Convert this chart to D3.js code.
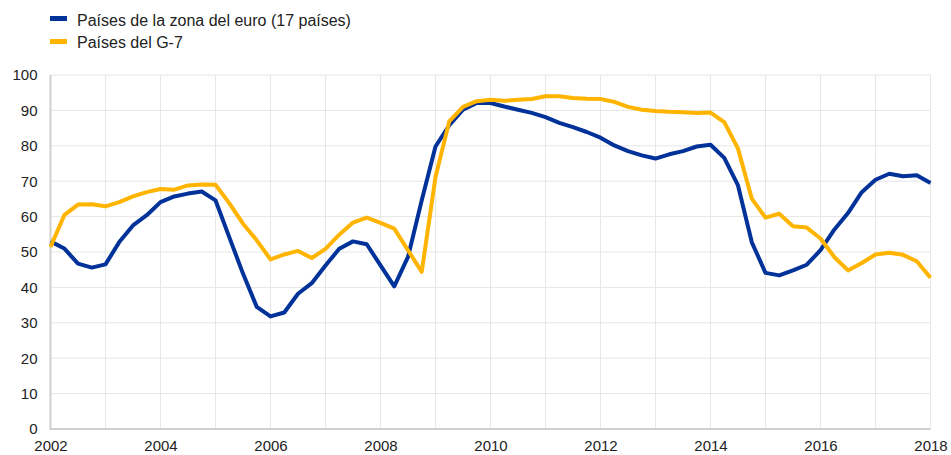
<!DOCTYPE html>
<html>
<head>
<meta charset="utf-8">
<script src="https://cdn.jsdelivr.net/npm/d3@7"></script>
<style>
  body { margin: 0; background: #fff; }
  svg { font-family: "Liberation Sans", Arial, sans-serif; }
</style>
</head>
<body>
<div id="vis-container"></div>
<script>
// size of the page and plot box
const width = 951;
const height = 455;
const margin = {left: 50.5, right: 20.5, top: 75, bottom: 26};

// series names
const seriesNames = ["Países de la zona del euro (17 países)", "Países del G-7"];
const colors = ["#003299", "#ffb400"];

// quarterly observations, 2002 Q1 .. 2018 Q1
const quarters = d3.range(65).map(i => 2002 + i / 4);

const euroArea = [53.0, 51.0, 46.7, 45.6, 46.5, 52.8, 57.5, 60.4, 64.1, 65.7, 66.5, 67.1,
  64.6, 54.2, 43.9, 34.5, 31.8, 32.9, 38.2, 41.2, 46.2, 50.9, 53.0, 52.2,
  46.2, 40.3, 48.6, 64.6, 79.8, 85.8, 90.2, 92.1, 92.1, 91.1, 90.2, 89.3,
  88.1, 86.5, 85.3, 83.9, 82.3, 80.1, 78.5, 77.3, 76.4, 77.6, 78.5, 79.8,
  80.3, 76.6, 68.8, 52.8, 44.1, 43.4, 44.8, 46.4, 50.5, 56.3, 61.0, 66.9,
  70.4, 72.1, 71.4, 71.7, 69.5];

const g7 = [51.4, 60.4, 63.4, 63.5, 62.9, 64.1, 65.7, 66.9, 67.8, 67.6, 68.8, 69.1,
  69.0, 63.8, 58.0, 53.3, 47.9, 49.3, 50.3, 48.3, 50.9, 54.9, 58.3, 59.7,
  58.2, 56.6, 50.5, 44.4, 71.2, 86.9, 91.0, 92.6, 93.0, 92.7, 93.0, 93.2,
  94.0, 94.0, 93.5, 93.3, 93.2, 92.4, 91.0, 90.2, 89.8, 89.6, 89.5, 89.3,
  89.4, 86.7, 79.2, 65.1, 59.7, 60.8, 57.3, 56.9, 53.8, 48.6, 44.8, 46.9,
  49.3, 49.8, 49.2, 47.4, 42.7];

const yTicks = [0, 10, 20, 30, 40, 50, 60, 70, 80, 90, 100];
const gridYears = d3.range(2003, 2019);
const labelYears = [2002, 2004, 2006, 2008, 2010, 2012, 2014, 2016, 2018];

const svg = d3.select("#vis-container")
  .append("svg")
  .attr("width", width)
  .attr("height", height);

// x runs a little past 2018, so the plot box ends after the last grid line
const xScale = d3.scaleLinear()
  .domain([2002, 2018])
  .range([margin.left, 930.5]);
const plotRight = width - margin.right;

const yScale = d3.scaleLinear()
  .domain([0, 100])
  .range([height - margin.bottom, margin.top]);

// horizontal grid
svg.append("g")
  .selectAll("line")
  .data(yTicks.filter(d => d > 0))
  .join("line")
  .attr("x1", margin.left)
  .attr("x2", plotRight)
  .attr("y1", d => yScale(d))
  .attr("y2", d => yScale(d))
  .attr("stroke", "#e6e6e6")
  .attr("stroke-width", 1);

// vertical grid
svg.append("g")
  .selectAll("line")
  .data(gridYears)
  .join("line")
  .attr("x1", d => xScale(d))
  .attr("x2", d => xScale(d))
  .attr("y1", yScale(100))
  .attr("y2", yScale(0))
  .attr("stroke", "#e6e6e6")
  .attr("stroke-width", 1);

// y-axis labels
svg.append("g")
  .attr("transform", `translate(${margin.left}, 0)`)
  .call(d3.axisLeft(yScale).tickValues(yTicks).tickSize(0).tickPadding(13))
  .call(g => g.select(".domain").remove())
  .selectAll("text")
  .attr("font-size", "15px")
  .attr("fill", "#222")
  .attr("font-family", "Liberation Sans, Arial, sans-serif");

// x-axis labels
svg.append("g")
  .attr("transform", `translate(0, ${yScale(0)})`)
  .call(d3.axisBottom(xScale).tickValues(labelYears).tickFormat(d3.format("d")).tickSize(0).tickPadding(11))
  .call(g => g.select(".domain").remove())
  .selectAll("text")
  .attr("font-size", "15px")
  .attr("fill", "#222")
  .attr("font-family", "Liberation Sans, Arial, sans-serif");

// axis lines
svg.append("line")
  .attr("x1", margin.left).attr("x2", margin.left)
  .attr("y1", yScale(100)).attr("y2", yScale(0))
  .attr("stroke", "#d0d0d0").attr("stroke-width", 2);
svg.append("line")
  .attr("x1", margin.left - 1).attr("x2", plotRight)
  .attr("y1", yScale(0)).attr("y2", yScale(0))
  .attr("stroke", "#d0d0d0").attr("stroke-width", 2);

// lines
const line = d3.line()
  .x((d, i) => xScale(quarters[i]))
  .y(d => yScale(d));

[euroArea, g7].forEach((series, i) => {
  svg.append("path")
    .datum(series)
    .attr("fill", "none")
    .attr("stroke", colors[i])
    .attr("stroke-width", 4)
    .attr("stroke-linejoin", "round")
    .attr("d", line);
});

// legend
const legend = svg.append("g");
seriesNames.forEach((name, i) => {
  legend.append("rect")
    .attr("x", 50)
    .attr("y", 16 + i * 23)
    .attr("width", 17)
    .attr("height", 5)
    .attr("fill", colors[i]);
  legend.append("text")
    .attr("x", 77)
    .attr("y", 25.5 + i * 22.5)
    .attr("font-size", "16px")
    .attr("fill", "#222")
    .text(name);
});
</script>
</body>
</html>
